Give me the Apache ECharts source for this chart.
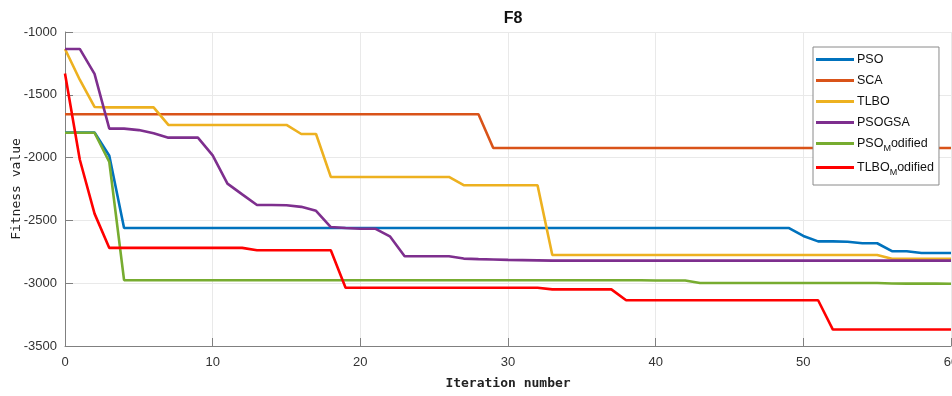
<!DOCTYPE html>
<html>
<head>
<meta charset="utf-8">
<script src="https://cdn.jsdelivr.net/npm/echarts@6/dist/echarts.min.js"></script>
<style>
  html, body { margin: 0; padding: 0; background: #fff; }
  #chart { width: 952px; height: 396px; }
</style>
</head>
<body>
<div id="chart"></div>
<script>
// Best fitness per iteration (iterations 0..60) for function F8
const iterationCount = 61;
const xTicks = [0, 10, 20, 30, 40, 50, 60];
const yTicks = [-3500, -3000, -2500, -2000, -1500, -1000];

const pso = [
  -1800, -1800, -1800, -1985, -2560, -2560, -2560, -2560, -2560, -2560,
  -2560, -2560, -2560, -2560, -2560, -2560, -2560, -2560, -2560, -2560,
  -2560, -2560, -2560, -2560, -2560, -2560, -2560, -2560, -2560, -2560,
  -2560, -2560, -2560, -2560, -2560, -2560, -2560, -2560, -2560, -2560,
  -2560, -2560, -2560, -2560, -2560, -2560, -2560, -2560, -2560, -2560,
  -2624, -2667, -2667, -2670, -2682, -2682, -2745, -2746, -2760, -2760,
  -2760
];
const sca = [
  -1655, -1655, -1655, -1655, -1655, -1655, -1655, -1655, -1655, -1655,
  -1655, -1655, -1655, -1655, -1655, -1655, -1655, -1655, -1655, -1655,
  -1655, -1655, -1655, -1655, -1655, -1655, -1655, -1655, -1655, -1924,
  -1924, -1924, -1924, -1924, -1924, -1924, -1924, -1924, -1924, -1924,
  -1924, -1924, -1924, -1924, -1924, -1924, -1924, -1924, -1924, -1924,
  -1924, -1924, -1924, -1924, -1924, -1924, -1924, -1924, -1924, -1924,
  -1924
];
const tlbo = [
  -1135, -1380, -1597, -1600, -1600, -1600, -1600, -1740, -1740, -1740,
  -1740, -1740, -1740, -1740, -1740, -1740, -1812, -1812, -2154, -2154,
  -2154, -2154, -2154, -2154, -2154, -2154, -2154, -2220, -2220, -2220,
  -2220, -2220, -2220, -2776, -2776, -2776, -2776, -2776, -2776, -2776,
  -2776, -2776, -2776, -2776, -2776, -2776, -2776, -2776, -2776, -2776,
  -2776, -2776, -2776, -2776, -2776, -2776, -2806, -2806, -2806, -2806,
  -2806
];
const psogsa = [
  -1135, -1135, -1334, -1769, -1769, -1781, -1806, -1841, -1841, -1841,
  -1982, -2207, -2293, -2377, -2377, -2379, -2392, -2424, -2553, -2560,
  -2566, -2566, -2627, -2786, -2786, -2786, -2786, -2804, -2808, -2811,
  -2814, -2816, -2818, -2820, -2820, -2820, -2820, -2820, -2820, -2820,
  -2820, -2820, -2820, -2820, -2820, -2820, -2820, -2820, -2820, -2820,
  -2820, -2820, -2820, -2820, -2820, -2820, -2820, -2820, -2820, -2820,
  -2820
];
const psoModified = [
  -1802, -1802, -1802, -2035, -2976, -2976, -2976, -2976, -2976, -2976,
  -2976, -2976, -2976, -2976, -2976, -2976, -2976, -2976, -2976, -2976,
  -2976, -2976, -2976, -2976, -2976, -2976, -2976, -2976, -2976, -2976,
  -2976, -2976, -2976, -2976, -2976, -2976, -2976, -2976, -2976, -2977,
  -2978, -2978, -2978, -2998, -2998, -2998, -2998, -2998, -2998, -2998,
  -2998, -2998, -2998, -2998, -2998, -2998, -3002, -3003, -3003, -3003,
  -3004
];
const tlboModified = [
  -1330, -2015, -2446, -2719, -2719, -2719, -2719, -2719, -2719, -2719,
  -2719, -2719, -2719, -2738, -2738, -2738, -2738, -2738, -2738, -3036,
  -3036, -3036, -3036, -3036, -3036, -3036, -3036, -3036, -3036, -3036,
  -3036, -3036, -3036, -3049, -3049, -3049, -3049, -3049, -3136, -3136,
  -3136, -3136, -3136, -3136, -3136, -3136, -3136, -3136, -3136, -3136,
  -3136, -3136, -3369, -3369, -3369, -3369, -3369, -3369, -3369, -3369,
  -3369
];

const seriesNames = ['PSO', 'SCA', 'TLBO', 'PSOGSA', 'PSOModified', 'TLBOModified'];
const seriesValues = [pso, sca, tlbo, psogsa, psoModified, tlboModified];
const seriesColors = ['#0072BD', '#D95319', '#EDB120', '#7E2F8E', '#77AC30', '#FF0000'];

const sans = "'Liberation Sans', Arial, sans-serif";

function toPairs(values) {
  const out = [];
  for (let i = 0; i < iterationCount; i++) out.push([i, values[i]]);
  return out;
}

// Legend labels: "Modified" variants carry a subscript M
function legendLabel(name) {
  const m = name.match(/^(PSO|TLBO)Modified$/);
  if (m) return '{n|' + m[1] + '}{s|M}{n|odified}';
  return '{n|' + name + '}';
}

const chart = echarts.init(document.getElementById('chart'), null, { renderer: 'canvas' });

chart.setOption({
  animation: false,
  backgroundColor: '#ffffff',
  title: {
    text: 'F8',
    left: 508,
    top: 6,
    textAlign: 'center',
    textStyle: { fontFamily: sans, fontSize: 16, fontWeight: 'bold', color: '#111' }
  },
  grid: { left: 65, right: 1, top: 32, bottom: 50, containLabel: false, outerBoundsMode: 'none' },
  legend: {
    orient: 'vertical',
    left: 813,
    top: 47,
    padding: [6, 5, 8, 3],
    itemGap: 8,
    itemWidth: 38,
    itemHeight: 12,
    borderColor: '#8a8a8a',
    borderWidth: 1,
    backgroundColor: '#fff',
    icon: 'path://M0,5 L38,5 L38,8 L0,8 Z',
    formatter: legendLabel,
    textStyle: {
      padding: [0, 0, 0, -2],
      rich: {
        n: { fontFamily: sans, fontSize: 12.5, color: '#111' },
        s: { fontFamily: sans, fontSize: 9, color: '#111', padding: [10, 0, 0, 0] }
      }
    },
    data: seriesNames.map((n, i) => ({ name: n, itemStyle: { color: seriesColors[i] } }))
  },
  xAxis: {
    type: 'value',
    min: xTicks[0],
    max: xTicks[xTicks.length - 1],
    interval: 10,
    name: 'Iteration number',
    nameLocation: 'middle',
    nameGap: 31,
    nameMoveOverlap: false,
    nameTextStyle: { fontFamily: 'DejaVu Sans Mono', fontSize: 13, fontWeight: 'bold', color: '#222' },
    axisLine: { show: true, lineStyle: { color: '#808080', width: 1 } },
    axisTick: { show: true, inside: true, length: 8, lineStyle: { color: '#808080' } },
    axisLabel: { fontFamily: sans, fontSize: 13, color: '#333', margin: 10, hideOverlap: false, showMaxLabel: true },
    splitLine: { show: true, lineStyle: { color: '#e9e9e9', width: 1 } }
  },
  yAxis: {
    type: 'value',
    min: yTicks[0],
    max: yTicks[yTicks.length - 1],
    interval: 500,
    name: 'Fitness value',
    nameLocation: 'middle',
    nameGap: 42,
    nameMoveOverlap: false,
    nameTextStyle: { fontFamily: 'DejaVu Sans Mono', fontSize: 13, color: '#222' },
    axisLine: { show: true, lineStyle: { color: '#808080', width: 1 } },
    axisTick: { show: true, inside: true, length: 8, lineStyle: { color: '#808080' } },
    axisLabel: { fontFamily: sans, fontSize: 13, color: '#333', margin: 8, formatter: (v) => String(v) },
    splitLine: { show: true, lineStyle: { color: '#e9e9e9', width: 1 } }
  },
  series: seriesNames.map((name, i) => ({
    name: name,
    type: 'line',
    data: toPairs(seriesValues[i]),
    showSymbol: false,
    symbol: 'none',
    clip: true,
    lineStyle: { color: seriesColors[i], width: 2.6 },
    itemStyle: { color: seriesColors[i] },
    z: 2 + i
  }))
});
</script>
</body>
</html>
